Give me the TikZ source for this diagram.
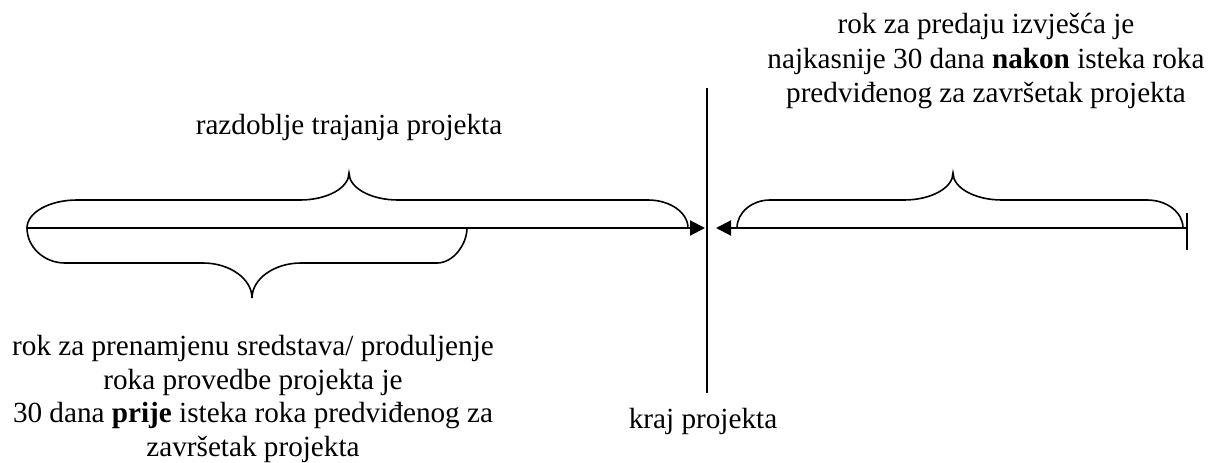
\documentclass[tikz,border=0pt]{standalone}
\usepackage{fontspec}
\setmainfont{Liberation Serif}
\usetikzlibrary{arrows.meta}
\tikzset{
  txt/.style={inner sep=0pt, align=center, font=\fontsize{29.2}{33.6}\selectfont},
  txtwide/.style={inner sep=0pt, align=center, font=\fontsize{29.2}{34.6}\selectfont},
  axis/.style={line width=2pt, -{Triangle[length=15pt,width=15pt]}},
  brace/.style={line width=1.6pt},
  rule/.style={line width=2pt}
}
\begin{document}
\begin{tikzpicture}[x=1pt,y=-1pt]
\useasboundingbox (0,0) rectangle (1216,463);
% coordinates
\coordinate (Lstart) at (27,228);
\coordinate (Ltip) at (705,228);
\coordinate (Rstart) at (1187,228);
\coordinate (Rtip) at (716,228);
\coordinate (Vtop) at (707,88);
\coordinate (Vbot) at (707,393);
\coordinate (Ttop) at (1187,213);
\coordinate (Tbot) at (1187,250);
% end line
\draw[rule] (Vtop) -- (Vbot);
% arrows
\draw[axis] (Lstart) -- (Ltip);
\draw[axis] (Rstart) -- (Rtip);
\draw[rule] (Ttop) -- (Tbot);
% braces
\draw[brace] (27,228) .. controls (27,212.5) and (49.4,200) .. (77,200) -- (300,200)
  .. controls (327,200) and (349,188) .. (349,173)
  .. controls (349,188) and (371,200) .. (398,200) -- (648,200)
  .. controls (670,200) and (688,212.5) .. (688,228);
\draw[brace] (27,228) .. controls (27,247) and (44,263) .. (65,263) -- (203,263)
  .. controls (230,263) and (252,279) .. (252,298)
  .. controls (252,279) and (274,263) .. (301,263) -- (437,263)
  .. controls (453.5,263) and (467,244) .. (467,228);
\draw[brace] (737,228) .. controls (737,212.5) and (752,200) .. (770,200) -- (904,200)
  .. controls (931,200) and (953,188) .. (953,173)
  .. controls (953,188) and (975,200) .. (1002,200) -- (1147,200)
  .. controls (1167,200) and (1183,212.5) .. (1183,228);
% texts
\node[txtwide, anchor=north] (after) at (986,13) {rok za predaju izvješća je\\najkasnije 30 dana \textbf{nakon} isteka roka\\predviđenog za završetak projekta};
\node[txt, anchor=base] (dur) at (349,134) {razdoblje trajanja projekta};
\node[txt, anchor=north] (before) at (253,335) {rok za prenamjenu sredstava/ produljenje\\roka provedbe projekta je\\30 dana \textbf{prije} isteka roka predviđenog za\\završetak projekta};
\node[txt, anchor=base] (end) at (703,428) {kraj projekta};
\end{tikzpicture}
\end{document}
